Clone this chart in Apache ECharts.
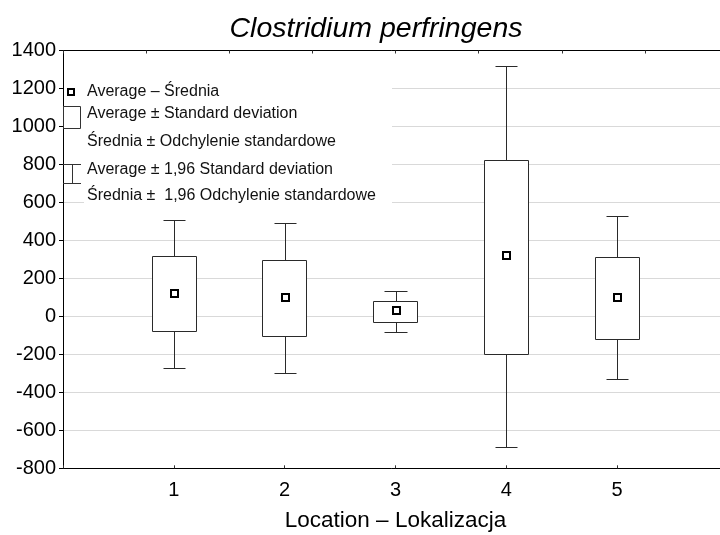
<!DOCTYPE html>
<html>
<head>
<meta charset="utf-8">
<script src="https://cdn.jsdelivr.net/npm/echarts@6/dist/echarts.min.js"></script>
<style>
html,body{margin:0;padding:0;background:#fff;}
#chart{width:720px;height:535px;}
</style>
</head>
<body>
<div id="chart"></div>
<script>
// ---- data ----
const categories = ['1', '2', '3', '4', '5'];
const meanValues = [125, 104, 34, 324, 104];
const sdLow = [-78, -104, -29, -196, -120];
const sdHigh = [319, 299, 82, 825, 315];
const sd196Low = [-270, -296, -83, -686, -329];
const sd196High = [508, 493, 136, 1316, 526];
const yMin = -800, yMax = 1400, yStep = 200;
const xMin = 0, xMax = 6;
const titleText = 'Clostridium perfringens';
const xAxisName = 'Location \u2013 Lokalizacja';
const legendTexts = [
  'Average \u2013 \u015arednia',
  'Average \u00b1 Standard deviation',
  '\u015arednia \u00b1 Odchylenie standardowe',
  'Average \u00b1 1,96 Standard deviation',
  '\u015arednia \u00b1  1,96 Odchylenie standardowe'
];

const FONT = '"Liberation Sans", Arial, sans-serif';
const seriesData = categories.map((c, i) => [Number(c), meanValues[i], sdLow[i], sdHigh[i], sd196Low[i], sd196High[i]]);

function px(v) { return Math.round(v) + 0.5; }

function renderBox(params, api) {
  const x = api.value(0);
  const m = api.coord([x, api.value(1)]);
  const bl = api.coord([x, api.value(2)]);
  const bh = api.coord([x, api.value(3)]);
  const wl = api.coord([x, api.value(4)]);
  const wh = api.coord([x, api.value(5)]);
  const bw = api.size([0.4, 0])[0];
  const cw = api.size([0.2, 0])[0];
  const cx = px(m[0]);
  const lineStyle = { stroke: '#2a2a2a', lineWidth: 1, fill: null };
  const yBl = px(bl[1]), yBh = px(bh[1]), yWl = px(wl[1]), yWh = px(wh[1]);
  return {
    type: 'group',
    children: [
      { type: 'line', shape: { x1: cx, y1: yWh, x2: cx, y2: yBh }, style: lineStyle },
      { type: 'line', shape: { x1: cx, y1: yBl, x2: cx, y2: yWl }, style: lineStyle },
      { type: 'line', shape: { x1: px(m[0] - cw / 2), y1: yWh, x2: px(m[0] + cw / 2), y2: yWh }, style: lineStyle },
      { type: 'line', shape: { x1: px(m[0] - cw / 2), y1: yWl, x2: px(m[0] + cw / 2), y2: yWl }, style: lineStyle },
      { type: 'rect', shape: { x: px(m[0] - bw / 2), y: yBh, width: Math.round(bw), height: yBl - yBh },
        style: { fill: '#fff', stroke: '#2a2a2a', lineWidth: 1 } },
      { type: 'rect', shape: { x: Math.round(m[0]) - 3, y: Math.round(m[1]) - 3, width: 7, height: 7 },
        style: { fill: '#fff', stroke: '#000', lineWidth: 2 } }
    ]
  };
}

const chart = echarts.init(document.getElementById('chart'), null, { renderer: 'canvas' });

const legendX = 87;
const legendYs = [92, 114, 142, 170, 196];
const legendGraphics = [
  { type: 'rect', shape: { x: 64, y: 80, width: 328, height: 117 }, style: { fill: '#fff' }, z: 50 },
  { type: 'rect', shape: { x: 84, y: 186, width: 308, height: 20 }, style: { fill: '#fff' }, z: 50 },
  // mean marker
  { type: 'rect', shape: { x: 68, y: 89, width: 6, height: 6 }, style: { fill: '#fff', stroke: '#000', lineWidth: 2 }, z: 51 },
  // SD box symbol
  { type: 'rect', shape: { x: 63.5, y: 106.5, width: 17, height: 22 }, style: { fill: '#fff', stroke: '#333', lineWidth: 1 }, z: 51 },
  // 1.96 SD whisker symbol
  { type: 'line', shape: { x1: 63, y1: 164.5, x2: 81, y2: 164.5 }, style: { stroke: '#333', lineWidth: 1 }, z: 51 },
  { type: 'line', shape: { x1: 72.5, y1: 164.5, x2: 72.5, y2: 183.5 }, style: { stroke: '#333', lineWidth: 1 }, z: 51 },
  { type: 'line', shape: { x1: 63, y1: 183.5, x2: 81, y2: 183.5 }, style: { stroke: '#333', lineWidth: 1 }, z: 51 }
].concat(legendTexts.map((t, i) => ({
  type: 'text', z: 52,
  style: { x: legendX, y: legendYs[i], text: t, fill: '#111', font: '16px ' + FONT,
           align: 'left', verticalAlign: 'middle', textAlign: 'left', textVerticalAlign: 'middle' }
})));

chart.setOption({
  animation: false,
  backgroundColor: '#fff',
  title: {
    text: titleText,
    left: 371,
    textAlign: 'center',
    top: 10,
    textStyle: { fontFamily: FONT, fontStyle: 'italic', fontWeight: 'normal', fontSize: 28.5, color: '#000' }
  },
  grid: { left: 63, right: -8, top: 50.5, bottom: 66.7, containLabel: false, outerBoundsMode: 'none' },
  xAxis: [
    {
      type: 'value', position: 'bottom', min: xMin, max: xMax, interval: 1,
      axisLine: { show: true, onZero: false, lineStyle: { color: '#000', width: 1 } },
      axisTick: { show: true, inside: true, length: 3, lineStyle: { color: '#333' } },
      axisLabel: {
        fontFamily: FONT, fontSize: 20, color: '#000', margin: 12,
        formatter: v => (categories.indexOf(String(v)) >= 0 ? String(v) : '')
      },
      splitLine: { show: false },
      name: xAxisName, nameLocation: 'middle', nameGap: 41,
      nameTextStyle: { fontFamily: FONT, fontSize: 22.5, color: '#000' }
    },
    {
      type: 'value', position: 'top', min: xMin, max: xMax, interval: 0.75,
      axisLine: { show: true, onZero: false, lineStyle: { color: '#000', width: 1 } },
      axisTick: { show: true, inside: true, length: 3, lineStyle: { color: '#333' } },
      axisLabel: { show: false },
      splitLine: { show: false }
    }
  ],
  yAxis: {
    type: 'value', min: yMin, max: yMax, interval: yStep,
    axisLine: { show: true, onZero: false, lineStyle: { color: '#000', width: 1 } },
    axisTick: { show: true, inside: false, length: 4, lineStyle: { color: '#000' } },
    axisLabel: { fontFamily: FONT, fontSize: 20, color: '#000', margin: 7, formatter: v => String(v) },
    splitLine: { show: true, lineStyle: { color: '#d9d9d9', width: 1 } }
  },
  series: [{
    type: 'custom',
    xAxisIndex: 0,
    renderItem: renderBox,
    encode: { x: 0, y: [1, 2, 3, 4, 5] },
    data: seriesData,
    z: 10,
    clip: false
  }],
  graphic: legendGraphics
});
</script>
</body>
</html>
